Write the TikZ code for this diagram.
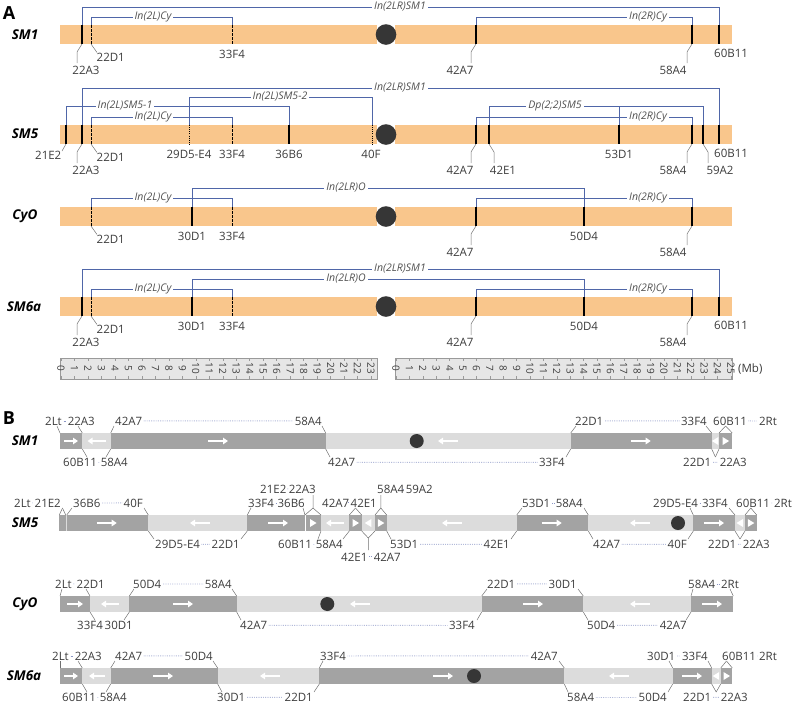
\documentclass[tikz,border=0pt]{standalone}
\usepackage{fontspec}
\setmainfont{Open Sans}
\usetikzlibrary{arrows.meta}
\definecolor{org}{HTML}{F9C68C}
\definecolor{blu}{HTML}{4F66A8}
\definecolor{txt}{HTML}{3C3C3C}
\definecolor{txtb}{HTML}{505050}
\definecolor{segd}{HTML}{A3A3A3}
\definecolor{segl}{HTML}{DCDCDC}
\definecolor{cen}{HTML}{363636}
\definecolor{dotc}{HTML}{8A95C5}
\definecolor{rulf}{HTML}{E6E6E6}
\definecolor{rulb}{HTML}{9A9A9A}
\definecolor{ldc}{HTML}{707070}
% bracket: x1 x2 ytop ybar label labelx
\newcommand\brkt[6]{\draw[br] (#1,#4) -- (#1,#3) -- (#2,#3) -- (#2,#4);
  \node[brl] at (#6,#3) {#5};}
% tick: x top bottom style
\newcommand\tck[4]{\draw[tks,#4] (#1,#2) -- (#1,#3);}
% long leader: x bb dir text labelcx
\newcommand\ldl[5]{\draw[ld] (#1,#2) -- ++(#3*5,8) -- ++(0,11);
  \node[lb,anchor=north] at (#5,#2+21.5) {#4};}
% plain label below: x bb text
\newcommand\blab[3]{\node[lb,anchor=north] at (#1,#2+5.5) {#3};}
% pair above: c1 c2 top Ltext Lwest Lend Rtext Reast Rend
\newcommand\labU[9]{\node[lb,anchor=base west] (L) at (#5,#3-8) {#4};
  \node[lb,anchor=base east] (R) at (#8,#3-8) {#7};
  \draw[dotl] (L) -- (R);
  \draw[ld] (#1,#3) -- (#6,#3-7);
  \draw[ld] (#2,#3) -- (#9,#3-7);}
% pair below: c1 c2 bottom Ltext Lwest Lend Rtext Reast Rend
\newcommand\labD[9]{\node[lb,anchor=base west] (L) at (#5,#3+17.5) {#4};
  \node[lb,anchor=base east] (R) at (#8,#3+17.5) {#7};
  \draw[dotl] (L) -- (R);
  \draw[ld] (#1,#3) -- (#6,#3+8);
  \draw[ld] (#2,#3) -- (#9,#3+8);}
% segment: x1 x2 top colour
\newcommand\segm[4]{\fill[#4] (#1,#3) rectangle (#2,#3+16);}
% arrow: xc yc dir halflength
\newcommand\arw[4]{\draw[wa] (#1-#3*#4,#2) -- (#1+#3*#4,#2);}
% triangle: xc yc dir
\newcommand\tri[3]{\fill[white] (#1-#3*3,#2-4) -- (#1+#3*3.5,#2) -- (#1-#3*3,#2+4) -- cycle;}
\begin{document}
\begin{tikzpicture}[x=1pt,y=-1pt,
  lb/.style={font=\fontsize{11.5}{13}\selectfont, text=txt, inner sep=0pt},
  brl/.style={font=\fontsize{10.5}{12}\selectfont\itshape, text=txtb, fill=white, inner xsep=2pt, inner ysep=0.5pt},
  br/.style={draw=blu, line width=0.75pt},
  tks/.style={draw=black, line width=1.1pt},
  dsh/.style={line width=0.8pt, dash pattern=on 2.5pt off 1.6pt},
  dtt/.style={line width=0.8pt, dash pattern=on 0.9pt off 1.2pt},
  ld/.style={draw=ldc, line width=0.5pt},
  dotl/.style={draw=dotc, line width=0.8pt, dash pattern=on 0.5pt off 1.3pt, shorten <=1.5pt, shorten >=1.5pt},
  wa/.style={draw=white, line width=1.6pt, -{Triangle[length=5pt,width=6.5pt]}},
  rowname/.style={font=\fontsize{13.5}{16}\selectfont\bfseries\itshape, text=black},
  panel/.style={font=\fontsize{18}{20}\selectfont\bfseries, text=black},
  rl/.style={rotate=-90, font=\fontsize{10}{10}\selectfont, text=txt, inner sep=0pt},
  bar/.style={fill=org},
  cenA/.style={fill=cen},
]
\useasboundingbox (0,0) rectangle (792,705);
\node[panel] (pA) at (9,13.5) {A};
\node[panel] (pB) at (9,418.5) {B};
% ================= Panel A =================
% --- SM1 ---
\node[rowname] (nA1) at (25,35) {SM1};
\fill[bar] (60,25) rectangle (377,44);
\fill[bar] (395,25) rectangle (732,44);
\fill[cenA] (386,34.5) circle (10.3);
\brkt{82}{719}{7}{25}{In(2LR)SM1}{400}
\brkt{91}{232}{17}{25}{In(2L)Cy}{153}
\brkt{476}{692}{17}{25}{In(2R)Cy}{648}
\tck{82}{25}{44}{}
\tck{91}{25}{44}{dsh}
\tck{232}{25}{44}{dsh}
\tck{476}{25}{44}{}
\tck{692}{25}{44}{}
\tck{719}{25}{44}{}
\ldl{82}{44}{-1}{22A3}{86}
\draw[ld] (91,44) -- ++(6,8.5); \node[lb,anchor=north west] at (96.5,52.5) {22D1};
\blab{232}{44}{33F4}
\ldl{476}{44}{-1}{42A7}{460}
\ldl{692}{44}{-1}{58A4}{673}
\node[lb,anchor=north west] at (714,49) {60B11};
% --- SM5 ---
\node[rowname] (nA2) at (25,134) {SM5};
\fill[bar] (60,125) rectangle (377,144);
\fill[bar] (395,125) rectangle (732,144);
\fill[cenA] (386,134.5) circle (10.3);
\brkt{82}{719}{88}{125}{In(2LR)SM1}{400}
\brkt{189}{372}{97}{125}{In(2L)SM5-2}{280}
\brkt{66}{289}{106}{125}{In(2L)SM5-1}{125}
\brkt{91}{232}{117}{125}{In(2L)Cy}{153}
\brkt{489}{703}{106}{125}{Dp(2;2)SM5}{555}
\draw[br] (619,106) -- (619,125);
\brkt{476}{692}{117}{125}{In(2R)Cy}{648}
\tck{66}{125}{144}{}
\tck{82}{125}{144}{}
\tck{91}{125}{144}{dsh}
\tck{189}{125}{144}{dtt}
\tck{232}{125}{144}{dsh}
\tck{289}{125}{144}{}
\tck{372}{125}{144}{dtt}
\tck{476}{125}{144}{}
\tck{489}{125}{144}{}
\tck{619}{125}{144}{}
\tck{692}{125}{144}{}
\tck{703}{125}{144}{}
\tck{719}{125}{144}{}
\draw[ld] (66,144) -- ++(-4,7); \node[lb,anchor=north east] at (61.5,151) {21E2};
\ldl{82}{144}{-1}{22A3}{86}
\draw[ld] (91,144) -- ++(6,8.5); \node[lb,anchor=north west] at (96.5,152.5) {22D1};
\blab{189}{144}{29D5-E4}
\blab{232}{144}{33F4}
\blab{289}{144}{36B6}
\blab{371}{144}{40F}
\ldl{476}{144}{-1}{42A7}{460}
\ldl{489}{144}{1}{42E1}{503}
\blab{619}{144}{53D1}
\ldl{692}{144}{-1}{58A4}{673}
\ldl{703}{144}{1}{59A2}{720}
\node[lb,anchor=north west] at (714,149) {60B11};
% --- CyO ---
\node[rowname] (nA3) at (25,216.5) {CyO};
\fill[bar] (60,207) rectangle (377,226);
\fill[bar] (395,207) rectangle (732,226);
\fill[cenA] (386,216.5) circle (10.3);
\brkt{192}{584}{188}{207}{In(2LR)O}{346}
\brkt{91}{232}{198}{207}{In(2L)Cy}{153}
\brkt{476}{692}{198}{207}{In(2R)Cy}{648}
\tck{91}{207}{226}{dsh}
\tck{192}{207}{226}{}
\tck{232}{207}{226}{dsh}
\tck{476}{207}{226}{}
\tck{584}{207}{226}{}
\tck{692}{207}{226}{}
\draw[ld] (91,226) -- ++(6,8.5); \node[lb,anchor=north west] at (96.5,234.5) {22D1};
\blab{192}{226}{30D1}
\blab{232}{226}{33F4}
\ldl{476}{226}{-1}{42A7}{460}
\blab{584}{226}{50D4}
\ldl{692}{226}{-1}{58A4}{673}
% --- SM6a ---
\node[rowname] (nA4) at (24,306.5) {SM6a};
\fill[bar] (60,297) rectangle (377,316);
\fill[bar] (395,297) rectangle (732,316);
\fill[cenA] (386,306.5) circle (10.3);
\brkt{82}{719}{269}{297}{In(2LR)SM1}{400}
\brkt{192}{584}{279}{297}{In(2LR)O}{346}
\brkt{91}{232}{289}{297}{In(2L)Cy}{153}
\brkt{476}{692}{289}{297}{In(2R)Cy}{648}
\tck{82}{297}{316}{}
\tck{91}{297}{316}{dsh}
\tck{192}{297}{316}{}
\tck{232}{297}{316}{dsh}
\tck{476}{297}{316}{}
\tck{584}{297}{316}{}
\tck{692}{297}{316}{}
\tck{719}{297}{316}{}
\ldl{82}{316}{-1}{22A3}{86}
\draw[ld] (91,316) -- ++(6,8.5); \node[lb,anchor=north west] at (96.5,324.5) {22D1};
\blab{192}{316}{30D1}
\blab{232}{316}{33F4}
\ldl{476}{316}{-1}{42A7}{460}
\blab{584}{316}{50D4}
\ldl{692}{316}{-1}{58A4}{673}
\node[lb,anchor=north west] at (714,321) {60B11};
% --- rulers ---
\draw[fill=rulf, draw=rulb, line width=0.5pt] (60,358) rectangle (377,379);
\draw[fill=rulf, draw=rulb, line width=0.5pt] (395,358) rectangle (732,379);
\foreach \i in {0,...,23}{
  \draw[rulb, line width=0.5pt] (61+13.48*\i,358) -- ++(0,3) (61+13.48*\i,379) -- ++(0,-3);
  \node[rl] at (61+13.48*\i,368.5) {\i};}
\foreach \i in {0,...,25}{
  \draw[rulb, line width=0.5pt] (396+13.4*\i,358) -- ++(0,3) (396+13.4*\i,379) -- ++(0,-3);
  \node[rl] at (396+13.4*\i,368.5) {\i};}
\node[lb,anchor=west] (mb) at (738,369) {(Mb)};
% ================= Panel B =================
% --- SM1 (top 433) ---
\node[rowname] (nB1) at (25,441) {SM1};
\segm{60}{82.3}{433}{segd}
\segm{82.3}{110.7}{433}{segl}
\segm{110.7}{325.7}{433}{segd}
\segm{325.7}{570.7}{433}{segl}
\segm{570.7}{711.7}{433}{segd}
\segm{711.7}{719}{433}{segl}
\segm{719}{732.3}{433}{segd}
\arw{71}{441}{1}{7}
\arw{96.5}{441}{-1}{9}
\arw{218}{441}{1}{10}
\arw{448}{441}{-1}{10}
\fill[cen] (416.7,441) circle (7);
\arw{640.7}{441}{1}{10}
\tri{715.4}{441}{-1}
\tri{725.6}{441}{1}
\labU{60}{82.3}{433}{2Lt}{45}{57}{22A3}{95}{78}
\labD{82.3}{110.7}{449}{60B11}{63}{87}{58A4}{128}{106}
\labU{110.7}{325.7}{433}{42A7}{115}{114}{58A4}{322}{322}
\labD{325.7}{570.7}{449}{42A7}{328}{330}{33F4}{565}{566}
\labU{570.7}{711.7}{433}{22D1}{575}{576}{33F4}{707}{706}
\labD{711.7}{719}{449}{22D1}{683}{715.4}{22A3}{747}{715.4}
\labU{719}{732.3}{433}{60B11}{713}{725.6}{2Rt}{777}{725.6}
% --- SM5 (top 515) ---
\node[rowname] (nB2) at (25,523) {SM5};
\segm{59.3}{65.7}{515}{segd}
\segm{65.7}{66.7}{515}{segl}
\segm{66.7}{148.3}{515}{segd}
\segm{148.3}{247.3}{515}{segl}
\segm{247.3}{305}{515}{segd}
\segm{305}{321}{515}{segd}
\draw[white, line width=0.6pt] (305,515) -- (305,531);
\segm{321}{349.3}{515}{segl}
\segm{349.3}{361.7}{515}{segd}
\segm{361.7}{375}{515}{segl}
\segm{375}{386.7}{515}{segd}
\segm{386.7}{516.7}{515}{segl}
\segm{516.7}{588.3}{515}{segd}
\segm{588.3}{693.3}{515}{segl}
\segm{693.3}{735}{515}{segd}
\segm{735}{745}{515}{segl}
\segm{745}{756.7}{515}{segd}
\arw{106.7}{523}{1}{10}
\arw{200}{523}{-1}{10}
\arw{278}{523}{1}{10}
\tri{313}{523}{1}
\arw{335}{523}{-1}{9}
\tri{355.5}{523}{1}
\tri{368.3}{523}{-1}
\tri{380.8}{523}{1}
\arw{452}{523}{-1}{10}
\arw{551.7}{523}{1}{10}
\arw{640}{523}{-1}{10}
\fill[cen] (678,523) circle (7);
\arw{714}{523}{1}{10}
\tri{740}{523}{-1}
\tri{750.8}{523}{1}
\labU{59.3}{65.7}{515}{2Lt}{14}{62.5}{21E2}{61}{62.5}
\labU{66.7}{148.3}{515}{36B6}{73}{72}{40F}{143}{144}
\labD{148.3}{247.3}{531}{29D5-E4}{155}{154}{22D1}{240}{241}
\labU{247.3}{305}{515}{33F4}{248}{251}{36B6}{305}{303}
\labD{321}{349.3}{531}{60B11}{278}{318}{58A4}{343}{343}
\labU{349.3}{361.7}{515}{42A7}{322}{355.5}{42E1}{377}{355.5}
\labD{386.7}{516.7}{531}{53D1}{390}{391}{42E1}{510}{511}
\labU{516.7}{588.3}{515}{53D1}{522}{522}{58A4}{583}{584}
\labD{588.3}{693.3}{531}{42A7}{593}{593}{40F}{687}{688}
\labU{693.3}{735}{515}{29D5-E4}{653}{690}{33F4}{728}{729}
\labD{735}{745}{531}{22D1}{708}{740}{22A3}{770}{740}
\labU{745}{756.7}{515}{60B11}{736}{750.8}{2Rt}{792}{750.8}
% upper tier
\draw[ld] (305,515) -- (313,508) -- (321,515) (313,508) -- (313,495);
\node[lb,anchor=base west] (L) at (260,493) {21E2};
\node[lb,anchor=base east] (R) at (316,493) {22A3};
\draw[dotl] (L) -- (R);
\draw[ld] (375,515) -- (380.8,508) -- (386.7,515) (380.8,508) -- (380.8,495);
\node[lb,anchor=base west] (L) at (377,493) {58A4};
\node[lb,anchor=base east] (R) at (433,493) {59A2};
\draw[dotl] (L) -- (R);
% lower tier
\draw[ld] (361.7,531) -- (368.3,538) -- (375,531) (368.3,538) -- (368.3,550);
\node[lb,anchor=base west] (L) at (341,561) {42E1};
\node[lb,anchor=base east] (R) at (401,561) {42A7};
\draw[dotl] (L) -- (R);
% --- CyO (top 596) ---
\node[rowname] (nB3) at (25,604) {CyO};
\segm{60}{90}{596}{segd}
\segm{90}{129.3}{596}{segl}
\segm{129.3}{236.7}{596}{segd}
\segm{236.7}{481.7}{596}{segl}
\segm{481.7}{583.3}{596}{segd}
\segm{583.3}{691}{596}{segl}
\segm{691}{733.3}{596}{segd}
\arw{75}{604}{1}{8}
\arw{110}{604}{-1}{9}
\arw{183}{604}{1}{10}
\fill[cen] (327.3,604) circle (7);
\arw{360}{604}{-1}{10}
\arw{533}{604}{1}{10}
\arw{640}{604}{-1}{10}
\arw{712}{604}{1}{10}
\labU{60}{90}{596}{2Lt}{55}{62}{22D1}{105}{86}
\labD{90}{129.3}{612}{33F4}{77}{95}{30D1}{133}{124}
\labU{129.3}{236.7}{596}{50D4}{133}{134}{58A4}{232}{232}
\labD{236.7}{481.7}{612}{42A7}{240}{241}{33F4}{475}{477}
\labU{481.7}{583.3}{596}{22D1}{487}{487}{30D1}{577}{578}
\labD{583.3}{691}{612}{50D4}{587}{588}{42A7}{687}{686}
\labU{691}{733.3}{596}{58A4}{688}{693}{2Rt}{739}{730}
% --- SM6a (top 668) ---
\node[rowname] (nB4) at (24,676) {SM6a};
\segm{60}{82.3}{668}{segd}
\segm{82.3}{110.7}{668}{segl}
\segm{110.7}{217.7}{668}{segd}
\segm{217.7}{319.3}{668}{segl}
\segm{319.3}{564.3}{668}{segd}
\segm{564.3}{672.7}{668}{segl}
\segm{672.7}{711.7}{668}{segd}
\segm{711.7}{720.7}{668}{segl}
\segm{720.7}{732.3}{668}{segd}
\arw{71}{676}{1}{7}
\arw{97}{676}{-1}{8}
\arw{163}{676}{1}{10}
\arw{270}{676}{-1}{10}
\arw{443}{676}{1}{10}
\fill[cen] (474,676) circle (7);
\arw{619}{676}{-1}{10}
\arw{692}{676}{1}{10}
\tri{716.2}{676}{-1}
\tri{726.5}{676}{1}
\labU{60}{82.3}{668}{2Lt}{52}{60}{22A3}{102}{78}
\labD{82.3}{110.7}{684}{60B11}{62}{87}{58A4}{127}{106}
\labU{110.7}{217.7}{668}{42A7}{115}{115}{50D4}{213}{213}
\labD{217.7}{319.3}{684}{30D1}{217}{222}{22D1}{313}{314}
\labU{319.3}{564.3}{668}{33F4}{320}{323}{42A7}{558}{559}
\labD{564.3}{672.7}{684}{58A4}{567}{568}{50D4}{667}{668}
\labU{672.7}{711.7}{668}{30D1}{647}{669}{33F4}{708}{708}
\labD{711.7}{720.7}{684}{22D1}{683}{716.2}{22A3}{748}{716.2}
\labU{720.7}{732.3}{668}{60B11}{722}{726.5}{2Rt}{777}{726.5}
\end{tikzpicture}
\end{document}
